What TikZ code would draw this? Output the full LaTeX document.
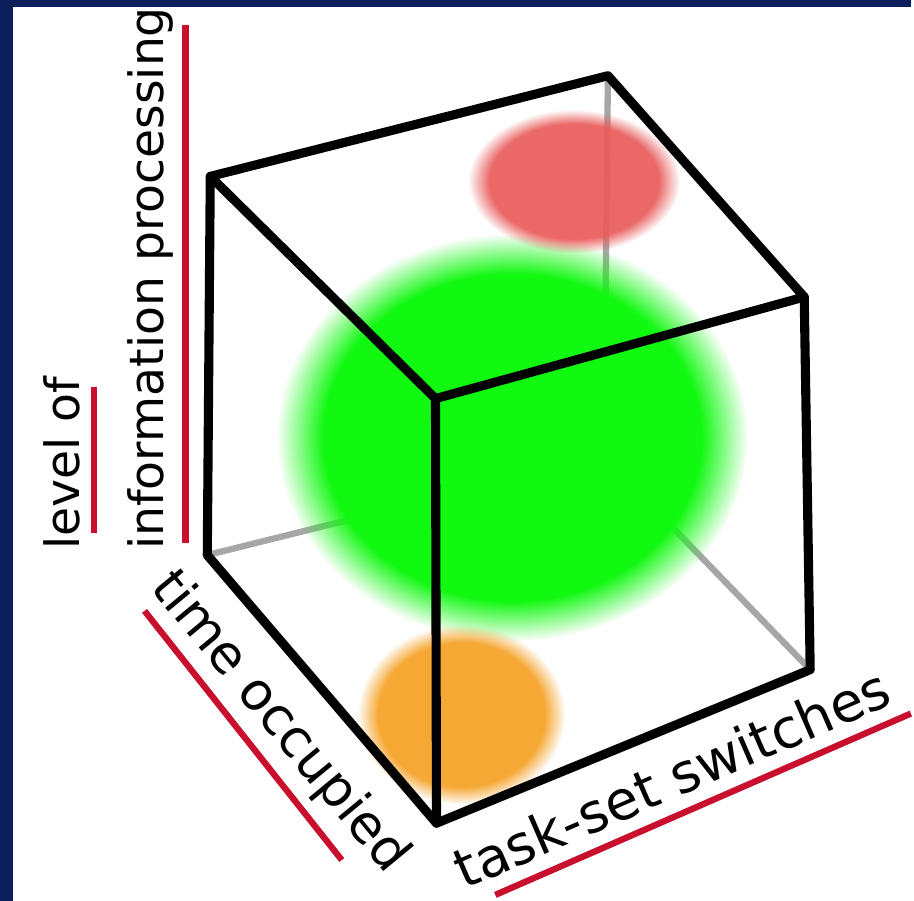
\documentclass[tikz,border=0pt]{standalone}
\usepackage{fontspec}
\setmainfont{DejaVu Sans}
\usetikzlibrary{fadings}

\definecolor{navy}{RGB}{12,31,92}
\definecolor{redline}{RGB}{200,16,46}
\definecolor{blobgreen}{RGB}{17,248,17}
\definecolor{blobred}{RGB}{234,92,92}
\definecolor{bloborange}{RGB}{246,168,52}

\begin{document}
\begin{tikzpicture}[
    x=0.02cm, y=-0.02cm, % 按像素坐标
    edge/.style={line width=5.2pt, line join=round, line cap=round},
    hidden/.style={line width=3.6pt, black!35, line cap=round},
    underline/.style={line width=3.6pt, redline},
    blob/.style={path fading=circle with fuzzy edge 20 percent},
    axislabel/.style={font=\fontsize{27}{30}\selectfont, inner sep=0pt}
]

% ========== 背景 ==========
\fill[navy] (0,0) rectangle (914,904);
\fill[white] (13,7) rectangle (914,904);

% ========== 立方体顶点 ==========
\coordinate (A) at (211,177); % 左上
\coordinate (B) at (610,76);  % 后上
\coordinate (C) at (807,298); % 右上
\coordinate (D) at (437,400); % 前上
\coordinate (E) at (208,557); % 左下
\coordinate (F) at (438,826); % 前下
\coordinate (G) at (813,672); % 右下
\coordinate (H) at (606,458); % 被挡住的后下角

% 后面的虚棱（灰色）
\draw[hidden] (H) -- (E);
\draw[hidden] (H) -- (G);
\draw[hidden] (H) -- (B);

% ========== 三个色块 ==========
\fill[blobgreen, blob] (514,439) ellipse [x radius=236, y radius=204];
\fill[blobred, blob, opacity=0.92] (576,182) ellipse [x radius=106, y radius=72];
\fill[bloborange, blob] (463,717) ellipse [x radius=104, y radius=90];

% ========== 立方体的棱 ==========
\draw[edge] (A) -- (B) -- (C) -- (D) -- cycle;
\draw[edge] (A) -- (E) -- (F) -- (G) -- (C);
\draw[edge] (D) -- (F);

% ========== 坐标轴文字 ==========
\node[axislabel, rotate=90, anchor=base west] (level) at (80,552) {level of};
\node[axislabel, rotate=90, anchor=base west] (info) at (164,552) {information processing};
\node[axislabel, font=\fontsize{30}{33}\selectfont, rotate=-50.5, anchor=base west] (time) at (150,590) {time occupied};
\node[axislabel, font=\fontsize{31}{34}\selectfont, rotate=23.5, anchor=base west] (task) at (466,893) {task-set switches};

% 红色下划线
\draw[underline] (94.5,388) -- (94.5,535);
\draw[underline] (186,25) -- (186,545);
\draw[underline] (145,613) -- (343,863);
\draw[underline] (497,898) -- (914,716);

\end{tikzpicture}
\end{document}
